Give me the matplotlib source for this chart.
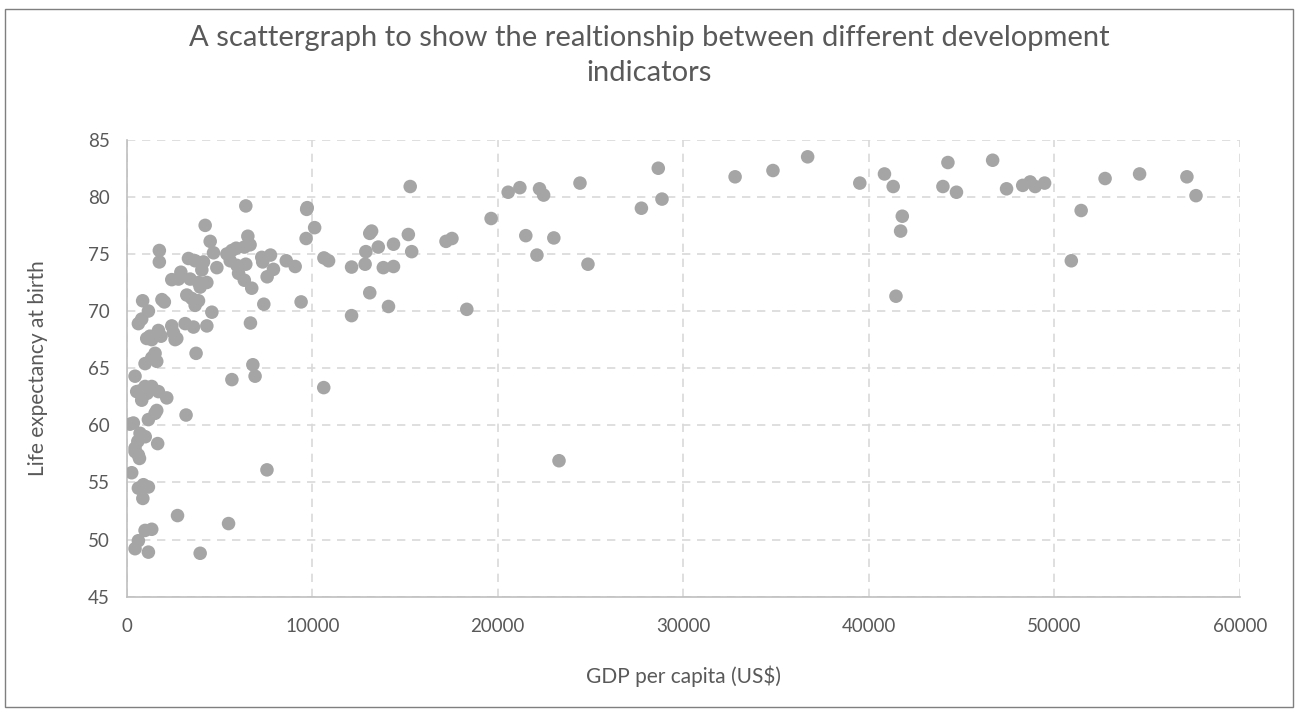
import matplotlib
matplotlib.use('Agg')
import matplotlib.pyplot as plt
from matplotlib.patches import Rectangle

# GDP per capita (US$) and life expectancy at birth
gdp = [
    # high income
    28650, 28850, 27740, 32790, 34830, 36700, 39510, 40840, 41310, 41800,
    41710, 41460, 44260, 43990, 44720, 46670, 47420, 48290, 48690, 48960,
    49470, 50910, 51440, 52730, 54590, 57140, 57630,
    # 15000 - 25000
    15280, 17210, 17530, 18330, 19640, 20560, 21190, 22250, 22470, 24430,
    21510, 23020, 22110, 24860, 23300,
    # 10000 - 15000
    13200, 13100, 13560, 14380, 15180, 15360, 12890, 12850, 13830, 14380,
    13100, 14110, 12120, 12120, 10630, 10880, 10620, 10130, 9730, 9700,
    9670, 9400, 8600, 9080,
    # 6000 - 9000
    6420, 6530, 6340, 6650, 6420, 7280, 7750, 7330, 7910, 7570,
    6340, 6740, 7390, 6670, 6800, 6920, 7560,
    # 3000 - 6000
    4230, 4500, 4680, 3330, 3690, 4140, 4050, 4860, 5670, 5400,
    5580, 5940, 6030, 5900, 2920, 2430, 2790, 3420, 3870, 4320,
    3960, 3240, 3510, 3870, 3690, 4590, 3150, 3600, 4320, 3740,
    5670, 3200, 5490, 2740, 3960,
    # below 3000
    1760, 1760, 860, 2030, 1170, 810, 630, 1710, 2430, 1080,
    1710, 1350, 2520, 2610, 1530, 1350, 990, 1620, 450, 540,
    990, 1350, 1710, 2160, 810, 1100, 1620, 1530, 1170, 360,
    180, 720, 450, 600, 1670, 630, 450, 690, 270, 630,
    900, 1170, 870, 990, 1350, 630, 450, 1170, 2700, 1850,
    1250, 1900, 700, 1000,
]
life_exp = [
    82.5, 79.8, 79.0, 81.75, 82.3, 83.5, 81.2, 82.0, 80.9, 78.3,
    77.0, 71.3, 83.0, 80.9, 80.4, 83.2, 80.7, 81.0, 81.3, 80.9,
    81.2, 74.4, 78.8, 81.6, 82.0, 81.75, 80.1,
    80.9, 76.1, 76.35, 70.15, 78.1, 80.4, 80.8, 80.7, 80.15, 81.2,
    76.6, 76.4, 74.9, 74.1, 56.9,
    77.0, 76.8, 75.6, 75.85, 76.7, 75.2, 75.2, 74.1, 73.8, 73.9,
    71.6, 70.4, 73.85, 69.6, 74.65, 74.4, 63.3, 77.3, 79.05, 78.9,
    76.35, 70.8, 74.4, 73.9,
    79.2, 76.55, 75.6, 75.8, 74.1, 74.7, 74.9, 74.3, 73.65, 73.0,
    72.7, 72.0, 70.6, 68.95, 65.3, 64.3, 56.1,
    77.5, 76.1, 75.1, 74.6, 74.4, 74.3, 73.6, 73.8, 75.3, 75.0,
    74.4, 74.0, 73.3, 75.5, 73.4, 72.75, 72.8, 72.8, 72.5, 72.5,
    72.1, 71.4, 71.1, 70.9, 70.5, 69.9, 68.9, 68.6, 68.7, 66.3,
    64.0, 60.9, 51.4, 52.1, 48.8,
    75.3, 74.3, 70.9, 70.8, 70.0, 69.3, 68.9, 68.3, 68.7, 67.6,
    68.0, 67.5, 68.1, 67.5, 66.3, 65.9, 65.4, 65.6, 64.3, 62.95,
    63.4, 63.4, 62.95, 62.4, 62.2, 62.8, 61.3, 61.05, 60.5, 60.2,
    60.1, 59.3, 58.0, 58.6, 58.4, 57.4, 57.7, 57.1, 55.85, 54.5,
    54.8, 54.6, 53.6, 50.8, 50.9, 49.9, 49.2, 48.9, 67.6, 67.8,
    67.8, 71.0, 63.0, 59.0,
]

x_ticks = [0, 10000, 20000, 30000, 40000, 50000, 60000]
y_ticks = [45, 50, 55, 60, 65, 70, 75, 80, 85]

title = "A scattergraph to show the realtionship between different development\nindicators"
x_label = "GDP per capita (US$)"
y_label = "Life expectancy at birth"

font = ['Lato', 'DejaVu Sans']
text_col = '#595959'
grid_col = '#D9D9D9'
dot_col = '#A5A5A5'

fig = plt.figure(figsize=(12.98, 7.09), dpi=100)
fig.patches.append(Rectangle((0.004, 0.003), 0.992, 0.985, transform=fig.transFigure,
                             fill=False, edgecolor='#7F7F7F', linewidth=1.0))

ax = fig.add_axes([0.0976, 0.1584, 0.8577, 0.6446])
ax.scatter(gdp, life_exp, s=95, color=dot_col, edgecolors='none', zorder=3)

ax.set_xlim(0, 60000)
ax.set_ylim(45, 85)
ax.set_xticks(x_ticks)
ax.set_yticks(y_ticks)
ax.set_xticklabels([str(v) for v in x_ticks], family=font, fontsize=13.5, color=text_col)
ax.set_yticklabels([str(v) for v in y_ticks], family=font, fontsize=13.5, color=text_col)
ax.tick_params(axis='x', length=0, pad=15)
ax.tick_params(axis='y', length=0, pad=12)

ax.grid(True, linestyle=(0, (5, 4)), color=grid_col, linewidth=1.2, zorder=0)
for s in ['top', 'right']:
    ax.spines[s].set_visible(False)
for s in ['left', 'bottom']:
    ax.spines[s].set_color('#BFBFBF')
    ax.spines[s].set_linewidth(1.2)

ax.set_xlabel(x_label, family=font, fontsize=15, color=text_col, labelpad=22)
ax.set_ylabel(y_label, family=font, fontsize=15, color=text_col, labelpad=29)

fig.text(0.5, 0.922, title, ha='center', va='center', family=font,
         fontsize=21, color=text_col, linespacing=1.45)

fig.savefig('out.png', dpi=100, facecolor='white')
